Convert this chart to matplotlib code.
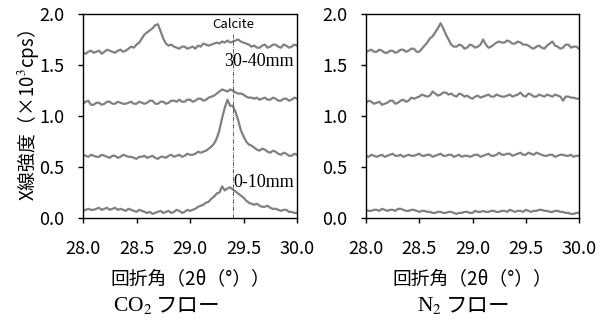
import numpy as np
import matplotlib
matplotlib.use("Agg")
import matplotlib.pyplot as plt

plt.rcParams['font.family'] = ['Noto Sans CJK JP', 'DejaVu Sans']
plt.rcParams['mathtext.fontset'] = 'stix'

two_theta = np.round(np.arange(28.0, 30.0001, 0.025), 3)

# CO2 flow diffractograms (top to bottom), kcps
co2_a = [1.62, 1.61, 1.63, 1.64, 1.62, 1.63, 1.64, 1.61, 1.63, 1.65,
         1.64, 1.63, 1.62, 1.64, 1.65, 1.63, 1.64, 1.66, 1.68, 1.67,
         1.70, 1.72, 1.76, 1.80, 1.82, 1.84, 1.86, 1.89, 1.90, 1.83,
         1.76, 1.71, 1.69, 1.70, 1.68, 1.67, 1.66, 1.68, 1.68, 1.66,
         1.67, 1.68, 1.66, 1.69, 1.68, 1.71, 1.70, 1.69, 1.70, 1.71,
         1.72, 1.71, 1.73, 1.72, 1.74, 1.72, 1.73, 1.74, 1.75, 1.73,
         1.72, 1.71, 1.70, 1.68, 1.69, 1.67, 1.67, 1.69, 1.70, 1.67,
         1.68, 1.70, 1.70, 1.68, 1.67, 1.70, 1.69, 1.67, 1.68, 1.70,
         1.69]
co2_b = [1.12, 1.14, 1.15, 1.11, 1.11, 1.13, 1.13, 1.11, 1.12, 1.14,
         1.14, 1.12, 1.12, 1.14, 1.13, 1.12, 1.12, 1.13, 1.14, 1.12,
         1.12, 1.14, 1.13, 1.12, 1.13, 1.15, 1.15, 1.12, 1.12, 1.14,
         1.14, 1.12, 1.13, 1.15, 1.15, 1.14, 1.16, 1.14, 1.14, 1.16,
         1.16, 1.14, 1.15, 1.17, 1.17, 1.15, 1.16, 1.18, 1.19, 1.20,
         1.22, 1.24, 1.26, 1.25, 1.24, 1.26, 1.25, 1.23, 1.22, 1.22,
         1.21, 1.19, 1.18, 1.18, 1.17, 1.18, 1.16, 1.17, 1.18, 1.16,
         1.16, 1.18, 1.17, 1.15, 1.15, 1.17, 1.17, 1.15, 1.16, 1.18,
         1.17]
co2_c = [0.62, 0.61, 0.60, 0.62, 0.61, 0.60, 0.60, 0.62, 0.61, 0.60,
         0.59, 0.61, 0.61, 0.59, 0.60, 0.62, 0.61, 0.60, 0.60, 0.59,
         0.58, 0.60, 0.60, 0.61, 0.59, 0.60, 0.61, 0.59, 0.58, 0.60,
         0.60, 0.59, 0.61, 0.62, 0.60, 0.61, 0.62, 0.60, 0.61, 0.63,
         0.62, 0.62, 0.63, 0.65, 0.64, 0.65, 0.66, 0.68, 0.70, 0.73,
         0.78, 0.86, 0.98, 1.08, 1.16, 1.10, 1.10, 1.04, 0.96, 0.86,
         0.80, 0.75, 0.72, 0.71, 0.69, 0.67, 0.66, 0.68, 0.67, 0.65,
         0.64, 0.66, 0.65, 0.63, 0.62, 0.64, 0.63, 0.61, 0.61, 0.63,
         0.62]
co2_d = [0.07, 0.08, 0.09, 0.08, 0.08, 0.09, 0.10, 0.08, 0.09, 0.10,
         0.08, 0.09, 0.10, 0.08, 0.09, 0.08, 0.07, 0.09, 0.08, 0.07,
         0.06, 0.08, 0.07, 0.06, 0.05, 0.06, 0.04, 0.05, 0.06, 0.07,
         0.05, 0.06, 0.07, 0.05, 0.06, 0.08, 0.07, 0.05, 0.06, 0.08,
         0.07, 0.08, 0.09, 0.11, 0.12, 0.13, 0.15, 0.16, 0.19, 0.21,
         0.24, 0.25, 0.31, 0.27, 0.29, 0.30, 0.28, 0.26, 0.24, 0.22,
         0.20, 0.17, 0.15, 0.14, 0.13, 0.14, 0.12, 0.11, 0.11, 0.12,
         0.10, 0.09, 0.09, 0.08, 0.07, 0.08, 0.08, 0.06, 0.06, 0.05,
         0.05]

# N2 flow diffractograms (top to bottom), kcps
n2_a = [1.63, 1.64, 1.65, 1.63, 1.63, 1.65, 1.64, 1.62, 1.62, 1.64,
        1.64, 1.62, 1.63, 1.65, 1.65, 1.63, 1.64, 1.66, 1.66, 1.63,
        1.63, 1.66, 1.69, 1.72, 1.76, 1.78, 1.82, 1.86, 1.91, 1.86,
        1.80, 1.75, 1.70, 1.68, 1.68, 1.70, 1.69, 1.66, 1.67, 1.70,
        1.69, 1.67, 1.68, 1.70, 1.75, 1.70, 1.67, 1.68, 1.70, 1.72,
        1.73, 1.72, 1.72, 1.74, 1.73, 1.71, 1.71, 1.73, 1.72, 1.70,
        1.70, 1.69, 1.67, 1.66, 1.68, 1.69, 1.67, 1.66, 1.69, 1.71,
        1.73, 1.69, 1.68, 1.66, 1.67, 1.70, 1.70, 1.67, 1.68, 1.68,
        1.66]
n2_b = [1.13, 1.15, 1.14, 1.12, 1.13, 1.14, 1.11, 1.12, 1.13, 1.15,
        1.15, 1.12, 1.13, 1.15, 1.16, 1.14, 1.15, 1.18, 1.17, 1.18,
        1.19, 1.21, 1.20, 1.19, 1.20, 1.24, 1.22, 1.20, 1.21, 1.23,
        1.23, 1.21, 1.22, 1.20, 1.19, 1.22, 1.21, 1.19, 1.20, 1.18,
        1.17, 1.19, 1.20, 1.18, 1.19, 1.20, 1.21, 1.19, 1.19, 1.21,
        1.20, 1.19, 1.19, 1.20, 1.21, 1.19, 1.20, 1.21, 1.23, 1.20,
        1.19, 1.22, 1.21, 1.19, 1.19, 1.21, 1.20, 1.19, 1.21, 1.20,
        1.19, 1.21, 1.20, 1.19, 1.15, 1.19, 1.19, 1.18, 1.18, 1.17,
        1.17]
n2_c = [0.61, 0.60, 0.62, 0.61, 0.60, 0.61, 0.62, 0.60, 0.61, 0.62,
        0.63, 0.61, 0.61, 0.62, 0.60, 0.61, 0.62, 0.61, 0.61, 0.62,
        0.63, 0.61, 0.61, 0.62, 0.62, 0.60, 0.61, 0.62, 0.63, 0.61,
        0.61, 0.62, 0.62, 0.60, 0.61, 0.62, 0.60, 0.61, 0.61, 0.60,
        0.61, 0.62, 0.62, 0.60, 0.61, 0.62, 0.63, 0.61, 0.61, 0.62,
        0.64, 0.62, 0.62, 0.63, 0.63, 0.61, 0.62, 0.63, 0.64, 0.62,
        0.62, 0.64, 0.63, 0.62, 0.64, 0.63, 0.62, 0.61, 0.61, 0.62,
        0.62, 0.60, 0.61, 0.62, 0.62, 0.61, 0.61, 0.62, 0.60, 0.61,
        0.61]
n2_d = [0.08, 0.07, 0.07, 0.08, 0.08, 0.07, 0.09, 0.08, 0.07, 0.08,
        0.08, 0.07, 0.09, 0.09, 0.08, 0.07, 0.07, 0.08, 0.08, 0.07,
        0.06, 0.07, 0.07, 0.06, 0.06, 0.05, 0.05, 0.06, 0.06, 0.05,
        0.05, 0.06, 0.06, 0.05, 0.04, 0.05, 0.05, 0.06, 0.06, 0.05,
        0.05, 0.07, 0.06, 0.06, 0.07, 0.06, 0.06, 0.07, 0.07, 0.06,
        0.06, 0.07, 0.07, 0.06, 0.08, 0.07, 0.06, 0.07, 0.07, 0.06,
        0.08, 0.07, 0.06, 0.07, 0.07, 0.08, 0.08, 0.07, 0.07, 0.06,
        0.06, 0.07, 0.07, 0.06, 0.06, 0.05, 0.05, 0.04, 0.04, 0.05,
        0.05]

x_ticks = [28.0, 28.5, 29.0, 29.5, 30.0]
y_ticks = [0.0, 0.5, 1.0, 1.5, 2.0]
calcite_pos = 29.4

line_color = '#808080'

fig = plt.figure(figsize=(6.07, 3.26), dpi=100)
ax1 = fig.add_axes([83 / 607, 1 - 218 / 326, 214 / 607, 204 / 326])
ax2 = fig.add_axes([366 / 607, 1 - 218 / 326, 213 / 607, 204 / 326])


def style(ax):
    ax.set_xlim(28.0, 30.0)
    ax.set_ylim(0.0, 2.0)
    ax.set_xticks(x_ticks)
    ax.set_xticklabels([f"{v:.1f}" for v in x_ticks])
    ax.set_yticks(y_ticks)
    ax.set_yticklabels([f"{v:.1f}" for v in y_ticks])
    ax.tick_params(direction='out', length=3.5, width=1, labelsize=13,
                   colors='black')
    ax.tick_params(axis='x', pad=12)
    ax.tick_params(axis='y', pad=10)
    for s in ax.spines.values():
        s.set_linewidth(1.0)
        s.set_color('black')
    ax.set_xlabel("回折角（2θ（°））", fontsize=13.5, labelpad=8)


for ax, series in ((ax1, (co2_a, co2_b, co2_c, co2_d)),
                   (ax2, (n2_a, n2_b, n2_c, n2_d))):
    for ys in series:
        ax.plot(two_theta, ys, color=line_color, lw=1.6,
                solid_joinstyle='round')
    style(ax)

ax1.set_ylabel("X線強度（×10$^3$cps）", fontsize=13.5, labelpad=-1)

ax1.plot([calcite_pos, calcite_pos], [0.0, 1.80], color='#404040', lw=0.6,
         linestyle=(0, (5, 1.5, 1, 1.5)))
ax1.text(calcite_pos, 1.90, "Calcite", ha='center', va='center', fontsize=9.5)
ax1.text(29.97, 1.53, "30-40mm", ha='right', va='center', fontsize=13,
         family='Liberation Serif')
ax1.text(29.97, 0.35, "0-10mm", ha='right', va='center', fontsize=13,
         family='Liberation Serif')


def panel_title(x_px, chem):
    t = fig.text(x_px / 607, 1 - 305 / 326, chem, ha='left', va='center',
                 fontsize=15.5, family='Liberation Serif')
    fig.canvas.draw()
    bb = t.get_window_extent()
    fig.text((bb.x1 + 4) / 607, 1 - 305 / 326, "フロー", ha='left',
             va='center', fontsize=15.5, family='Noto Sans CJK JP')


panel_title(113, "CO$_2$")
panel_title(417, "N$_2$")

fig.savefig("out.png", dpi=100)
